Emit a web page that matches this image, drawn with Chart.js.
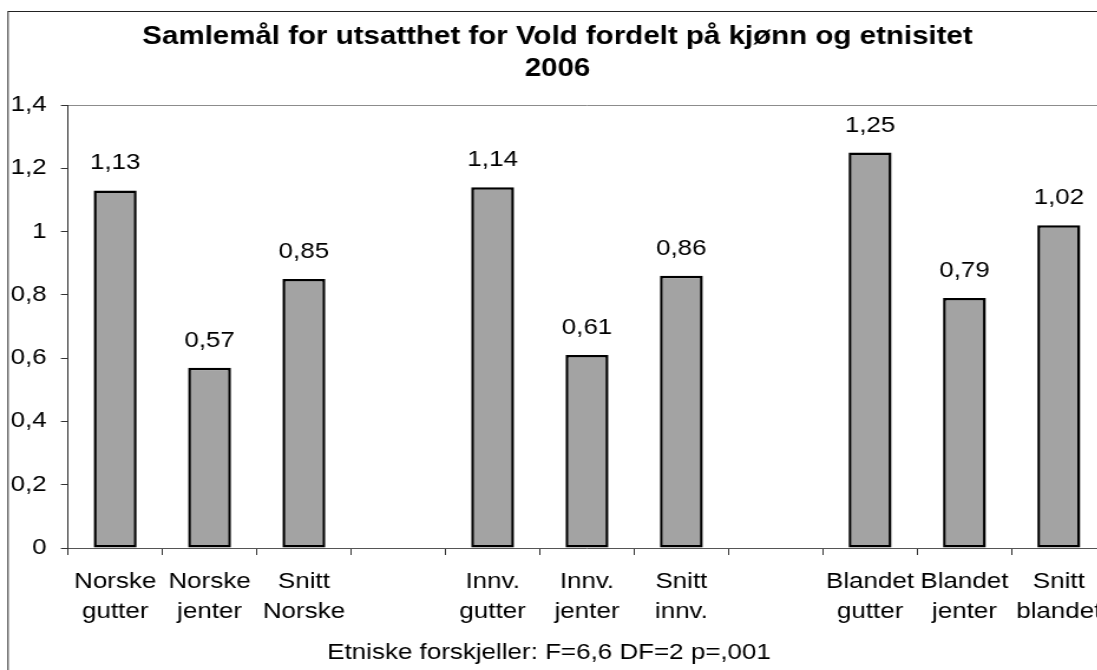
<!DOCTYPE html>
<html><head><meta charset="utf-8">
<script src="https://cdn.jsdelivr.net/npm/chart.js@4.4.1/dist/chart.umd.min.js"></script>
<style>
html,body{margin:0;padding:0;overflow:hidden;background:#fff;width:1097px;height:670px}
#wrap{position:absolute;left:0;top:0;width:950px;height:670px;transform:scaleX(1.18);transform-origin:0 0}
</style></head><body>
<div id="wrap"><canvas id="c"></canvas></div>
<script>
const categories = [['Norske','gutter'],['Norske','jenter'],['Snitt','Norske'],'',['Innv.','gutter'],['Innv.','jenter'],['Snitt','innv.'],'',['Blandet','gutter'],['Blandet','jenter'],['Snitt','blandet']];
const values = [1.13, 0.57, 0.85, null, 1.14, 0.61, 0.86, null, 1.25, 0.79, 1.02];
const titleLines = ['Samlemål for utsatthet for Vold fordelt på kjønn og etnisitet', '2006'];
const footnote = 'Etniske forskjeller: F=6,6 DF=2 p=,001';
const yMin = 0, yMax = 1.4, yStep = 0.2;

const FONT = "'Liberation Sans', Arial, Helvetica, sans-serif";
const comma = v => String(v).replace('.', ',');

const framePlugin = {
  id: 'frame',
  beforeDraw(chart) {
    const ctx = chart.ctx;
    ctx.save();
    ctx.fillStyle = '#fff';
    ctx.fillRect(0, 0, chart.width, chart.height);
    ctx.strokeStyle = '#222';
    ctx.lineWidth = 1;
    ctx.strokeRect(6.8, 11.5, chart.width + 20, chart.height + 20);
    ctx.restore();
  }
};

const valueLabels = {
  id: 'valueLabels',
  afterDatasetsDraw(chart) {
    const ctx = chart.ctx;
    const meta = chart.getDatasetMeta(0);
    ctx.save();
    ctx.font = '22px ' + FONT;
    ctx.fillStyle = '#000';
    ctx.textAlign = 'center';
    ctx.textBaseline = 'middle';
    meta.data.forEach((bar, i) => {
      const v = values[i];
      if (v == null) return;
      ctx.fillText(v.toFixed(2).replace('.', ','), bar.x, bar.y - 27);
    });
    ctx.restore();
  }
};

const footnotePlugin = {
  id: 'footnote',
  afterDraw(chart) {
    const ctx = chart.ctx;
    ctx.save();
    ctx.font = '22px ' + FONT;
    ctx.fillStyle = '#000';
    ctx.textAlign = 'center';
    ctx.textBaseline = 'middle';
    ctx.fillText(footnote, 465.3, 653);
    ctx.restore();
  }
};

new Chart(document.getElementById('c'), {
  type: 'bar',
  data: {
    labels: categories,
    datasets: [{
      data: values,
      backgroundColor: '#a3a3a3',
      borderColor: '#000',
      borderWidth: 2.5,
      borderSkipped: false,
      barPercentage: 0.455,
      categoryPercentage: 1
    }]
  },
  options: {
    responsive: true,
    maintainAspectRatio: false,
    animation: false,
    devicePixelRatio: 1,
    layout: { padding: { left: 7.6, right: 12.7, top: 0, bottom: 0 } },
    plugins: {
      legend: { display: false },
      tooltip: { enabled: false },
      title: {
        display: true,
        text: titleLines,
        color: '#000',
        font: { family: FONT, size: 25, weight: 'bold', lineHeight: 1.268 },
        padding: { top: 21.65, bottom: 19.95 }
      }
    },
    scales: {
      x: {
        offset: true,
        grid: { display: true, offset: true, drawOnChartArea: false, tickLength: 7, tickColor: '#333', tickWidth: 1 },
        border: { display: true, color: '#555', width: 1 },
        ticks: { color: '#000', font: { family: FONT, size: 22, lineHeight: 1.34 }, padding: 12.3, maxRotation: 0, autoSkip: false },
        afterFit(s) { s.height = 122; }
      },
      y: {
        min: yMin, max: yMax,
        grid: {
          drawOnChartArea: true,
          color: c => (c.tick && Math.abs(c.tick.value - yMax) < 1e-9) ? '#8c8c8c' : 'rgba(0,0,0,0)',
          tickColor: '#333',
          tickLength: 6
        },
        border: { color: '#333', width: 1 },
        ticks: { stepSize: yStep, color: '#000', font: { family: FONT, size: 22 }, padding: 12,
          callback: v => comma(Math.round(v * 10) / 10) },
        afterFit(s) { s.width = 50; }
      }
    }
  },
  plugins: [framePlugin, valueLabels, footnotePlugin]
});
</script>
</body></html>
